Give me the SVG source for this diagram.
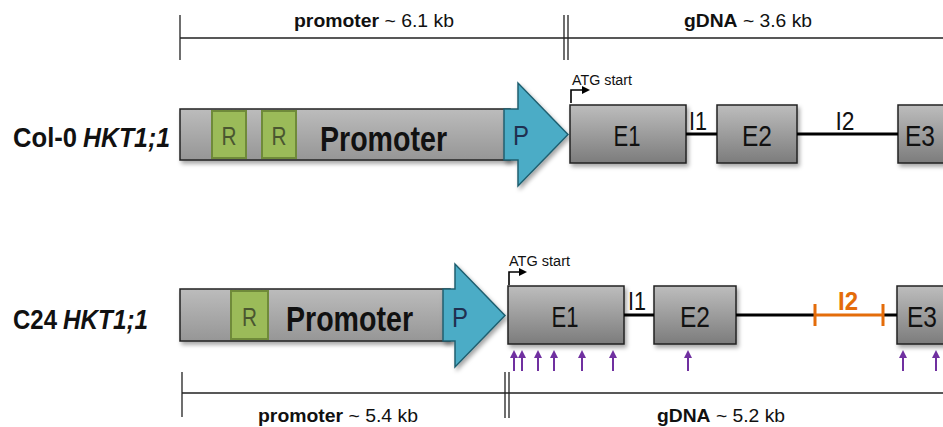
<svg xmlns="http://www.w3.org/2000/svg" width="943" height="427" viewBox="0 0 943 427">
<style>
text{font-family:"Liberation Sans Narrow","Liberation Sans",Arial,sans-serif;fill:#111}
.scale{stroke:#222;stroke-width:1.3;fill:none}
.sc{font-size:19px}
.b{font-weight:bold}
.row{font-size:28px;font-weight:bold}
.it{font-style:italic}
.prom{font-size:35px;font-weight:bold}
.bar{fill:url(#gbar);stroke:#222;stroke-width:1.5}
.exon{fill:url(#gex);stroke:#222;stroke-width:1.5}
.rbox{fill:#9bbb59;stroke:#6f8a3a;stroke-width:2}
.rt{font-size:25px;fill:#4a5630}
.blue{fill:#4bacc6;stroke:#1f5f70;stroke-width:1.5}
.pt{font-size:28px;fill:#1f3050}
.el{font-size:30px;text-anchor:middle}
.il{font-size:26px;text-anchor:middle}
.atg{font-size:14px}
.intron{stroke:#000;stroke-width:3;fill:none}
.orange{stroke:#e46c0a;stroke-width:3;fill:none}
.atgarrow{stroke:#000;stroke-width:1.6;fill:none;marker-end:url(#ah)}
.pa{stroke:#7030a0;stroke-width:2;marker-end:url(#ph)}
</style>
<defs>
<linearGradient id="gbar" x1="0" y1="0" x2="0" y2="1">
<stop offset="0" stop-color="#bcbcbc"/><stop offset="1" stop-color="#969696"/>
</linearGradient>
<linearGradient id="gex" x1="0" y1="0" x2="0" y2="1">
<stop offset="0" stop-color="#bdbdbd"/><stop offset="1" stop-color="#7c7c7c"/>
</linearGradient>
<filter id="sh" x="-10%" y="-10%" width="130%" height="140%">
<feDropShadow dx="2" dy="3" stdDeviation="2" flood-color="#000" flood-opacity="0.35"/>
</filter>
<marker id="ah" markerWidth="8" markerHeight="8" refX="1" refY="4" orient="auto" markerUnits="userSpaceOnUse">
<path d="M0,0 L8,4 L0,8 Z" fill="#000"/>
</marker>
<marker id="ph" markerWidth="8" markerHeight="8" refX="1" refY="4" orient="auto" markerUnits="userSpaceOnUse">
<path d="M0,0 L8,4 L0,8 Z" fill="#7030a0"/>
</marker>
</defs>

<g id="scale-top">
<path class="scale" d="M180,38 H943 M180,15 V60 M564,15 V60 M568,15 V60"/>
<text class="sc" x="374" y="27" text-anchor="middle" textLength="160" lengthAdjust="spacingAndGlyphs"><tspan class="b">promoter</tspan> ~ 6.1 kb</text>
<text class="sc" x="748" y="27" text-anchor="middle" textLength="128" lengthAdjust="spacingAndGlyphs"><tspan class="b">gDNA</tspan> ~ 3.6 kb</text>
</g>

<g id="scale-bottom">
<path class="scale" d="M182,393 H943 M182,372 V417 M505,372 V418 M509,372 V418"/>
<text class="sc" x="338" y="422" text-anchor="middle" textLength="160" lengthAdjust="spacingAndGlyphs"><tspan class="b">promoter</tspan> ~ 5.4 kb</text>
<text class="sc" x="721" y="422" text-anchor="middle" textLength="128" lengthAdjust="spacingAndGlyphs"><tspan class="b">gDNA</tspan> ~ 5.2 kb</text>
</g>

<g id="label-col0">
<text class="row" x="13" y="147" textLength="64" lengthAdjust="spacingAndGlyphs">Col-0</text>
<text class="row it" x="83" y="147" textLength="87" lengthAdjust="spacingAndGlyphs">HKT1;1</text>
</g>
<g id="label-c24">
<text class="row" x="13" y="329" textLength="44" lengthAdjust="spacingAndGlyphs">C24</text>
<text class="row it" x="63" y="329" textLength="85" lengthAdjust="spacingAndGlyphs">HKT1;1</text>
</g>

<g id="col0-promoter">
<rect class="bar" x="180" y="109" width="330" height="51" filter="url(#sh)"/>
<rect class="rbox" x="212" y="111" width="34" height="47"/>
<text class="rt" x="229" y="145" text-anchor="middle" textLength="15" lengthAdjust="spacingAndGlyphs">R</text>
<rect class="rbox" x="262" y="111" width="34" height="47"/>
<text class="rt" x="279" y="145" text-anchor="middle" textLength="15" lengthAdjust="spacingAndGlyphs">R</text>
<text class="prom" x="383.5" y="151" text-anchor="middle" textLength="127" lengthAdjust="spacingAndGlyphs">Promoter</text>
<polygon class="blue" points="504,109 518,109 518,83 568,134.5 518,186 518,160 504,160" filter="url(#sh)"/>
<text class="pt" x="521" y="145" text-anchor="middle" textLength="16" lengthAdjust="spacingAndGlyphs">P</text>
</g>

<g id="col0-E1"><rect class="exon" x="570" y="105" width="116" height="58" filter="url(#sh)"/><text class="el" x="627" y="146" textLength="27" lengthAdjust="spacingAndGlyphs">E1</text></g>
<g id="col0-E2"><rect class="exon" x="717" y="105" width="80" height="58" filter="url(#sh)"/><text class="el" x="757" y="146" textLength="30" lengthAdjust="spacingAndGlyphs">E2</text></g>
<g id="col0-E3"><rect class="exon" x="898" y="105" width="60" height="58" filter="url(#sh)"/><text class="el" x="920" y="146" textLength="30" lengthAdjust="spacingAndGlyphs">E3</text></g>

<g id="c24-promoter">
<rect class="bar" x="180" y="289" width="270" height="52" filter="url(#sh)"/>
<rect class="rbox" x="231" y="291" width="37" height="48"/>
<text class="rt" x="249.5" y="326" text-anchor="middle" textLength="15" lengthAdjust="spacingAndGlyphs">R</text>
<text class="prom" x="349.5" y="331" text-anchor="middle" textLength="127" lengthAdjust="spacingAndGlyphs">Promoter</text>
<polygon class="blue" points="443,289 455,289 455,264 505,315.5 455,367 455,341 443,341" filter="url(#sh)"/>
<text class="pt" x="460" y="327" text-anchor="middle" textLength="16" lengthAdjust="spacingAndGlyphs">P</text>
</g>

<g id="c24-E1"><rect class="exon" x="508" y="286" width="116" height="58" filter="url(#sh)"/><text class="el" x="565" y="327" textLength="27" lengthAdjust="spacingAndGlyphs">E1</text></g>
<g id="c24-E2"><rect class="exon" x="654" y="286" width="82" height="58" filter="url(#sh)"/><text class="el" x="695" y="327" textLength="30" lengthAdjust="spacingAndGlyphs">E2</text></g>
<g id="c24-E3"><rect class="exon" x="897" y="286" width="60" height="58" filter="url(#sh)"/><text class="el" x="922" y="327" textLength="30" lengthAdjust="spacingAndGlyphs">E3</text></g>

<g id="connectors">
<path class="intron" d="M686,134 H717 M797,134 H898"/>
<text class="il" x="698" y="130" textLength="18" lengthAdjust="spacingAndGlyphs">I1</text>
<text class="il" x="845" y="130" textLength="19" lengthAdjust="spacingAndGlyphs">I2</text>
<path class="intron" d="M624,315 H654 M736,315 H815 M883,315 H897"/>
<path class="orange" d="M815,315 H883 M815,304 V326 M883,304 V326"/>
<text class="il" x="637" y="310" textLength="18" lengthAdjust="spacingAndGlyphs">I1</text>
<text class="il" x="848" y="310" font-weight="bold" style="fill:#e46c0a" textLength="20" lengthAdjust="spacingAndGlyphs">I2</text>
<path class="atgarrow" d="M571,103 V90 H583"/>
<text class="atg" x="572" y="85" textLength="60" lengthAdjust="spacingAndGlyphs">ATG start</text>
<path class="atgarrow" d="M509,285 V272 H520"/>
<text class="atg" x="509" y="266" textLength="61" lengthAdjust="spacingAndGlyphs">ATG start</text>
</g>

<g id="variant-arrows">
<line class="pa" x1="514" y1="371" x2="514" y2="357"/>
<line class="pa" x1="522" y1="371" x2="522" y2="357"/>
<line class="pa" x1="538" y1="371" x2="538" y2="357"/>
<line class="pa" x1="554" y1="371" x2="554" y2="357"/>
<line class="pa" x1="582" y1="371" x2="582" y2="357"/>
<line class="pa" x1="613" y1="371" x2="613" y2="357"/>
<line class="pa" x1="688" y1="371" x2="688" y2="357"/>
<line class="pa" x1="903" y1="371" x2="903" y2="357"/>
<line class="pa" x1="936" y1="371" x2="936" y2="357"/>
</g>
</svg>
